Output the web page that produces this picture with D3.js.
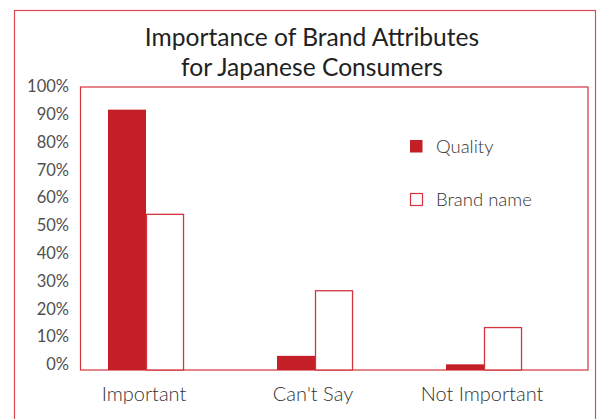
<!DOCTYPE html>
<html><head><meta charset="utf-8">
<script src="https://cdn.jsdelivr.net/npm/d3@7"></script>
<style>
body{margin:0;background:#fff;}
svg{display:block;}
text{font-family:Lato,"Open Sans",sans-serif;fill:#404040;}
</style></head>
<body><svg id="c" width="602" height="419"></svg>
<script>
const categories = ["Important", "Can't Say", "Not Important"];
const seriesNames = ["Quality", "Brand name"];
const qualityValues = [0.92, 0.05, 0.02];
const brandValues = [0.55, 0.28, 0.15];
const yTicks = [0, 0.1, 0.2, 0.3, 0.4, 0.5, 0.6, 0.7, 0.8, 0.9, 1.0];
const titleLines = ["Importance of Brand Attributes", "for Japanese Consumers"];

const red = "#c41f27";
const svg = d3.select("#c");
const FONT = "Lato, 'Open Sans', sans-serif";

// outer frame
svg.append("rect").attr("x", 14.5).attr("y", 10.5).attr("width", 581).attr("height", 420)
  .attr("fill", "none").attr("stroke", "#dc4a55").attr("stroke-width", 1.2);

const plot = {left: 80.5, right: 588, top: 87, bottom: 370};

const y = d3.scaleLinear().domain([0, 1]).range([plot.bottom, plot.top]);
// tick labels in the reference sit slightly above their gridline positions
const yLabel = d3.scaleLinear().domain([0, 1]).range([364.5, 86.5]);
const x0 = d3.scaleBand().domain(categories).range([61.5, 568.5]).paddingInner(0.55).paddingOuter(0.275);
const x1 = d3.scaleBand().domain(seriesNames).range([0, x0.bandwidth()]);

// plot frame
svg.append("rect").attr("x", plot.left).attr("y", plot.top)
  .attr("width", plot.right - plot.left).attr("height", plot.bottom - plot.top)
  .attr("fill", "none").attr("stroke", "#d3343e").attr("stroke-width", 1.2);

// title
svg.append("g").selectAll("text").data(titleLines).enter().append("text")
  .attr("x", 312).attr("y", (d, i) => 45.5 + i * 30.5)
  .attr("text-anchor", "middle").attr("font-size", 24.6)
  .style("fill", "#222").text(d => d);

// y axis
const yAxis = d3.axisLeft(yLabel).tickValues(yTicks).tickFormat(d3.format(".0%")).tickSize(0).tickPadding(0);
const ga = svg.append("g").attr("transform", `translate(69,0)`).call(yAxis);
ga.select(".domain").remove();
ga.selectAll("text").attr("font-size", 16.5).style("fill", "#505050")
  .style("font-family", FONT).style("font-weight", 400).attr("dy", "0.32em");

// x axis
const xAxis = d3.axisBottom(x0).tickSize(0).tickPadding(0);
const gx = svg.append("g").attr("transform", `translate(-2,401)`).call(xAxis);
gx.select(".domain").remove();
gx.selectAll("text").attr("font-size", 20).style("fill", "#333")
  .style("font-family", FONT).style("font-weight", 300).attr("dy", "0");

// bars
const rows = categories.map((c, i) => ({cat: c, vals: [qualityValues[i], brandValues[i]]}));
const groups = svg.append("g").selectAll("g").data(rows).enter().append("g")
  .attr("transform", d => `translate(${x0(d.cat)},0)`);
groups.selectAll("rect").data(d => d.vals.map((v, j) => ({s: seriesNames[j], v}))).enter().append("rect")
  .attr("x", d => x1(d.s) + (d.s === "Brand name" ? 0.5 : 0))
  .attr("y", d => y(d.v))
  .attr("width", d => x1.bandwidth() - (d.s === "Brand name" ? 1 : 0))
  .attr("height", d => plot.bottom - y(d.v))
  .attr("fill", d => d.s === "Quality" ? red : "#fff")
  .attr("stroke", d => d.s === "Quality" ? "none" : "#d3343e")
  .attr("stroke-width", 1.3);

// legend
const lg = svg.append("g").attr("transform", "translate(410,140)");
seriesNames.forEach((s, i) => {
  const g = lg.append("g").attr("transform", `translate(0,${i * 53})`);
  g.append("rect").attr("x", s === "Quality" ? 0 : 0.5).attr("y", s === "Quality" ? 0 : 0.5)
    .attr("width", s === "Quality" ? 12.5 : 12).attr("height", s === "Quality" ? 12.5 : 12)
    .attr("fill", s === "Quality" ? red : "#fff")
    .attr("stroke", s === "Quality" ? "none" : "#d3343e").attr("stroke-width", 1.2);
  g.append("text").attr("x", 26).attr("y", 12.5).attr("font-size", 18.5)
    .style("font-weight", 300).style("fill", "#333").text(s);
});
</script></body></html>
